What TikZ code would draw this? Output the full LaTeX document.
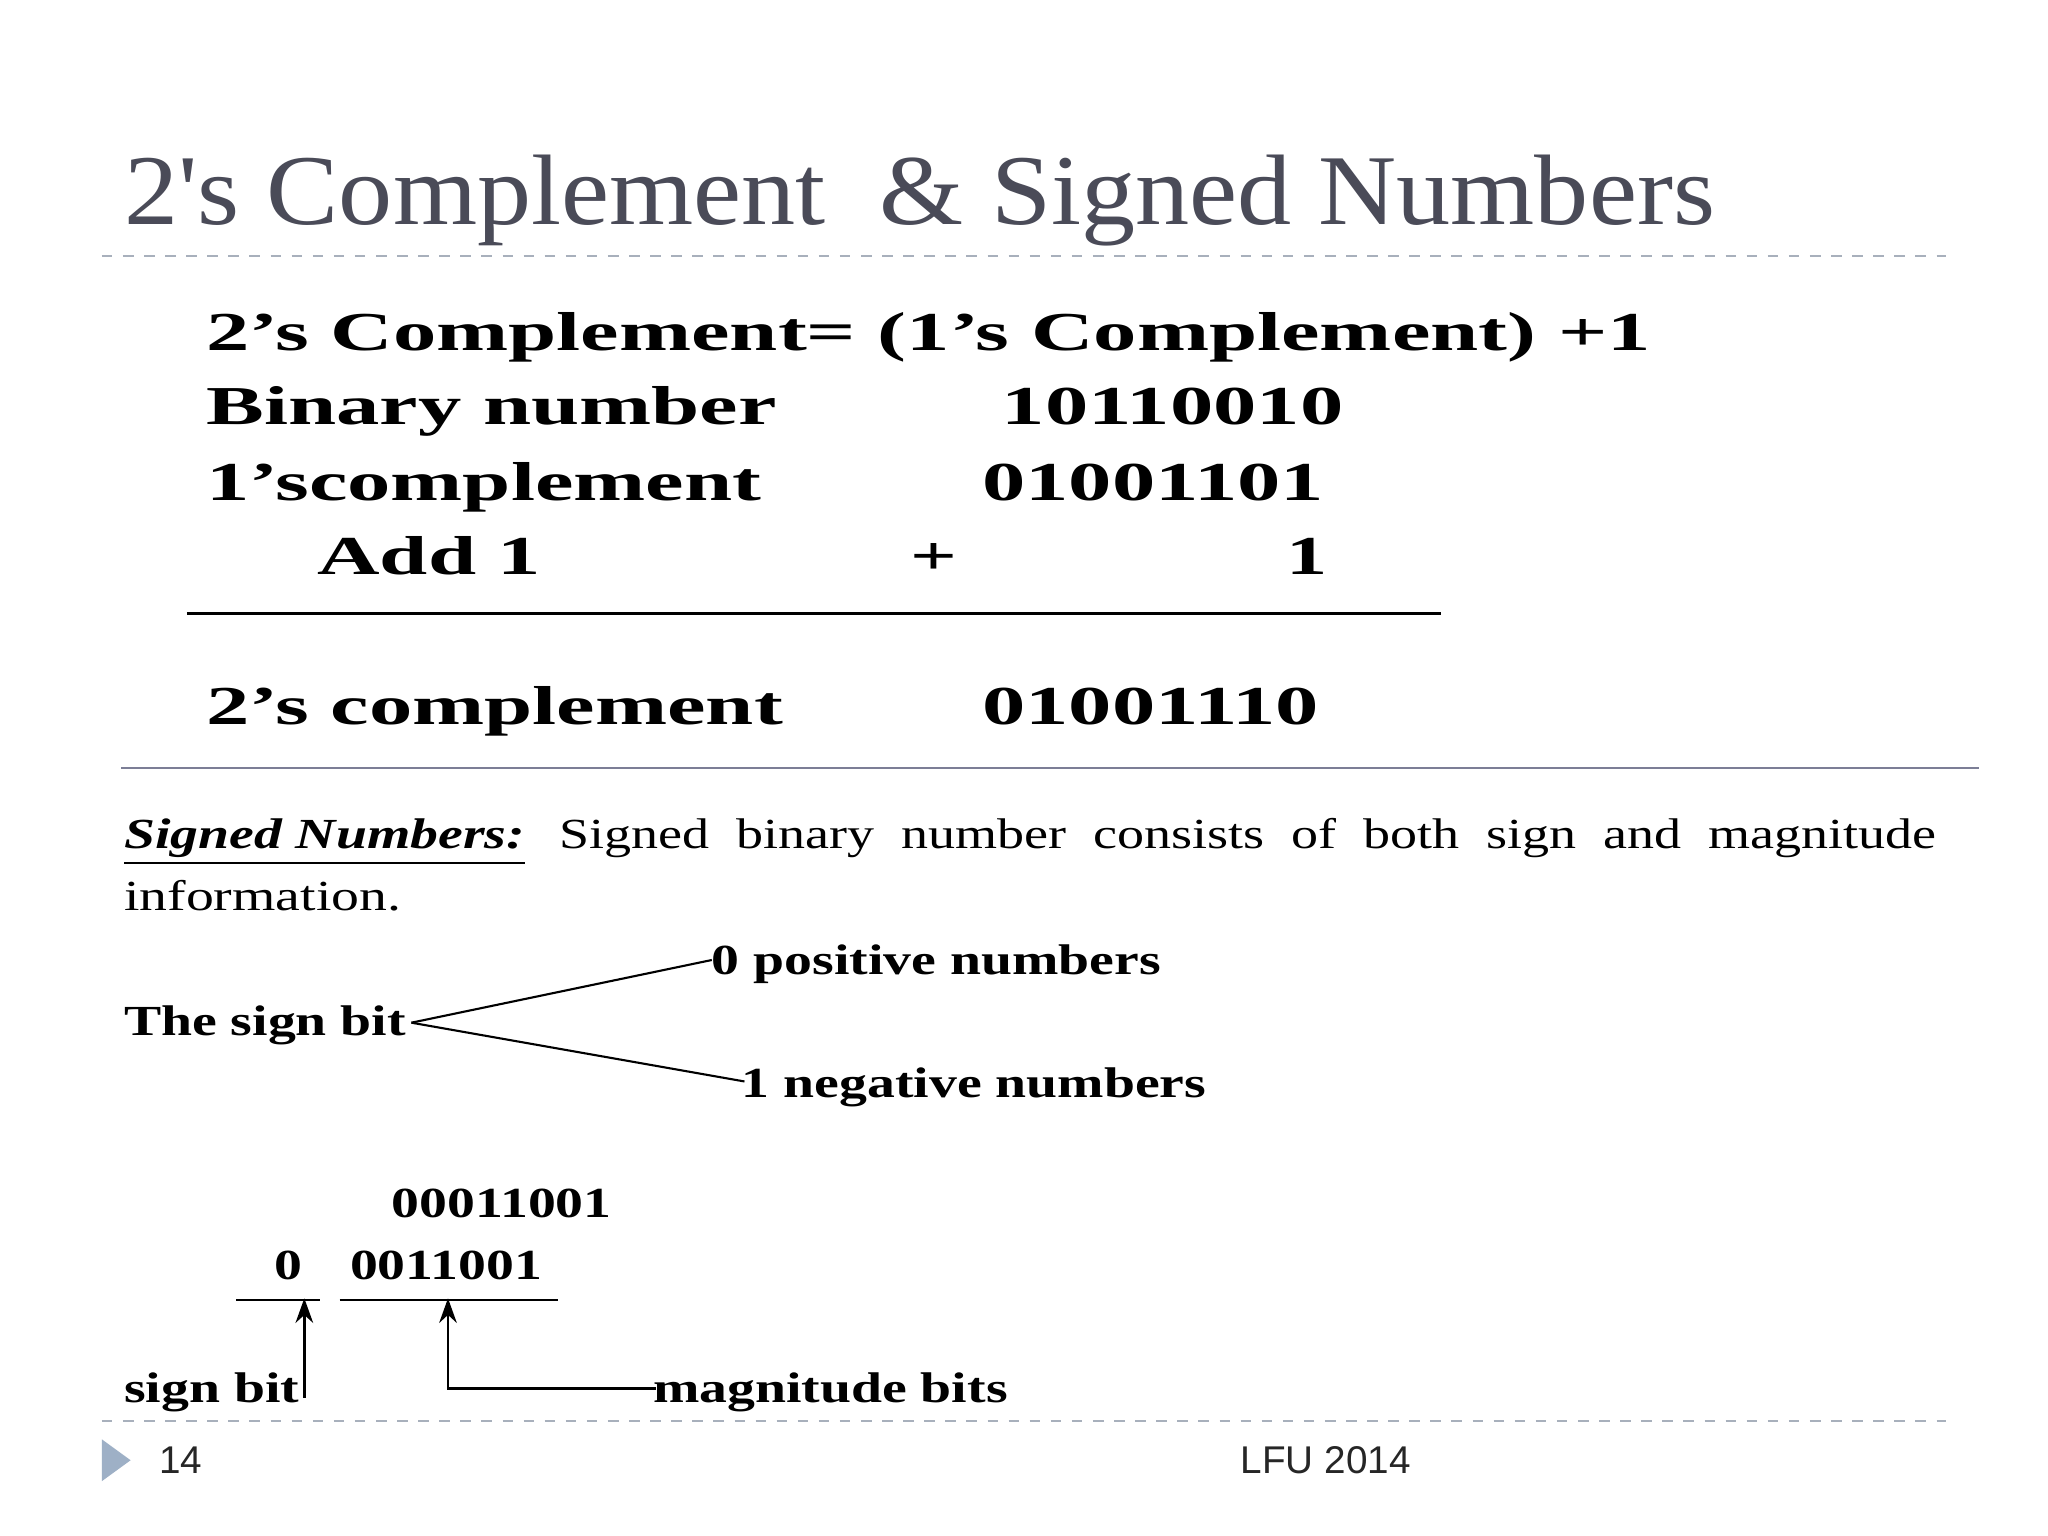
\documentclass[tikz,border=0pt]{standalone}
\usepackage{fontspec}
\setmainfont{Liberation Serif}
\newfontfamily\titlefont[Ligatures=NoCommon]{Liberation Serif}
\newfontfamily\footfont{Liberation Sans}
\usetikzlibrary{arrows.meta}
\definecolor{titlecol}{HTML}{4A4B58}
\definecolor{dashcol}{HTML}{A8B0BC}
\definecolor{rulecol}{HTML}{7C7E96}
\definecolor{tricol}{HTML}{9EB0C6}
\newcommand{\sx}[2]{\scalebox{#1}[1]{#2}}
\tikzset{
  txt/.style={anchor=base west,inner sep=0pt,outer sep=0pt},
  big/.style={txt,font=\fontsize{15.6}{18}\selectfont\bfseries},
  mid/.style={txt,font=\fontsize{12.2}{14}\selectfont},
  midb/.style={txt,font=\fontsize{12.2}{14}\selectfont\bfseries},
  foot/.style={txt,font=\fontsize{11}{13}\footfont\selectfont,text=black!85},
  dline/.style={dashcol,dashed,line width=0.6pt},
}
\begin{document}
\begin{tikzpicture}[x=0.013061cm,y=-0.013061cm]
\useasboundingbox[fill=white] (0,0) rectangle (1568,1176);
\node[txt,text=titlecol,font=\fontsize{28.5}{32}\titlefont\selectfont] (title) at (95,172) {\sx{1.08}{2\textquotesingle s Complement\ \ \& Signed Numbers}};
\draw[dline] (78,196) -- (1490,196);
% top block
\node[big] (r1) at (158,268) {\sx{1.58}{2's Complement= (1's Complement) +1}};
\node[big] (r2) at (158,325) {\sx{1.58}{Binary number}};
\node[big] (n2) at (767,325) {\sx{1.58}{10110010}};
\node[big] (r3) at (158,383) {\sx{1.58}{1'scomplement}};
\node[big] (n3) at (752,383) {\sx{1.58}{01001101}};
\node[big] (r4) at (243,440) {\sx{1.58}{Add 1}};
\node[big] (plus) at (697,440) {\sx{1.5}{+}};
\node[big] (n4) at (985,440) {\sx{1.5}{1}};
\coordinate (l1) at (143,470); \coordinate (l2) at (1103,470);
\draw[line width=0.8pt] (l1) -- (l2);
\node[big] (r5) at (158,555) {\sx{1.58}{2's complement}};
\node[big] (n5) at (752,555) {\sx{1.58}{01001110}};
\coordinate (s1) at (93,588); \coordinate (s2) at (1515,588);
\draw[rulecol,line width=0.8pt] (s1) -- (s2);
% signed numbers
\node[txt,font=\fontsize{12.2}{14}\selectfont\bfseries\itshape] (sn) at (95,650) {\sx{1.3}{\underline{Signed Numbers:}}};
\node[mid] (sd) at (428,650) {\sx{1.26}{Signed\ \ binary\ \ number\ \ consists\ \ of\ \ both\ \ sign\ \ and\ \ magnitude}};
\node[mid] (info) at (95,697) {\sx{1.3}{information.}};
\node[midb] (sb) at (95,793) {\sx{1.3}{The sign bit}};
\node[midb] (pos) at (545,746) {\sx{1.3}{0 positive numbers}};
\node[midb] (neg) at (568,840) {\sx{1.3}{1 negative numbers}};
\coordinate (fork) at (315,783);
\draw[line width=0.6pt] (fork) -- (545,735);
\draw[line width=0.6pt] (fork) -- (570,828);
% bottom
\node[midb] (b1) at (300,932) {\sx{1.3}{00011001}};
\node[midb] (b0) at (210,980) {\sx{1.3}{0}};
\node[midb] (b2) at (268,980) {\sx{1.3}{0011001}};
\coordinate (u1) at (181,995); \coordinate (u2) at (245,995);
\coordinate (u3) at (260,995); \coordinate (u4) at (427,995);
\draw[line width=0.6pt] (u1) -- (u2);
\draw[line width=0.6pt] (u3) -- (u4);
\coordinate (a1) at (233,1070); \coordinate (a1t) at (233,994);
\coordinate (a2) at (343,1063); \coordinate (a2t) at (343,994);
\coordinate (a2e) at (502,1063);
\draw[line width=0.8pt,-{Stealth[length=7pt,width=5pt]}] (a1) -- (a1t);
\draw[line width=0.8pt,-{Stealth[length=7pt,width=5pt]}] (a2e) -- (a2) -- (a2t);
\node[midb] (sgb) at (95,1074) {\sx{1.3}{sign bit}};
\node[midb] (mb) at (500,1074) {\sx{1.3}{magnitude bits}};
% footer
\draw[dline] (78,1088) -- (1490,1088);
\fill[tricol] (78,1102) -- (100,1118) -- (78,1134) -- cycle;
\node[foot] (pg) at (122,1128) {14};
\node[foot] (lfu) at (950,1128) {LFU 2014};
\end{tikzpicture}
\end{document}
